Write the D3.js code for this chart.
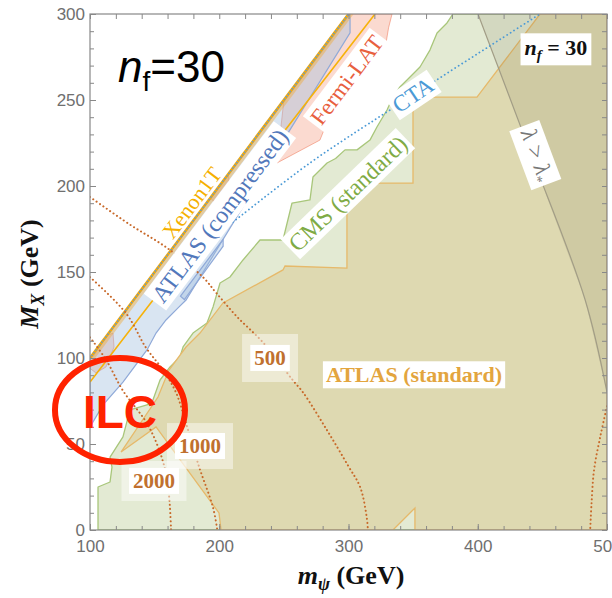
<!DOCTYPE html>
<html>
<head>
<meta charset="utf-8">
<script src="https://cdn.jsdelivr.net/npm/d3@7"></script>
<style>
  body { margin: 0; background: #fff; }
</style>
</head>
<body>
<div id="chart"></div>
<script>
// boundaries, points are [m_psi, M_X] in GeV
const cmsStd = [[106.2,0],[106.2,25],[115.5,27.9],[117,36.6],[115.5,42.4],[125.5,54.1],[130.9,69.8],[144.1,72.7],[148.7,75.6],[154.2,87.2],[161.9,94.8],[169.6,100.6],[172,106.4],[179.7,114.5],[190.5,120.3],[195.2,129.7],[200.6,143.6],[208.3,147.1],[218.4,157],[231.5,168.6],[249.3,168.6],[256.3,190.1],[270.2,191.9],[272.5,205.2],[283.4,213.4],[290,216],[297.3,221],[306.6,221],[316.6,226.7],[322,234.3],[329.8,244.2],[334.4,251.7],[339.8,257.6],[347.6,263.4],[355.3,269.2],[363,279],[368.5,289],[376.2,294.8],[380.8,300],[500,300],[500,0]];
const atlasStd = [[448.2,300],[399.4,251.7],[349.9,251.7],[349.9,201.7],[298.8,201.7],[298.8,152.3],[250.9,153.5],[249.3,151.2],[202.9,132],[185.1,114.5],[174.3,106.4],[161.1,93],[152.6,77.3],[124,45.3],[151.1,59.9],[199.8,9.9],[201.4,0],[334.4,0],[351.4,12.8],[351.4,0],[500,0],[500,300]];
const lambdaEdge = [[400.2,300],[440,221],[483,134],[500,80]];
const fermiLat = [[299.6,300],[333.7,300],[331,292],[329,283],[308.9,264.5],[285.7,241.3],[277.9,226.7],[244.7,213.4],[250,250]];
const fermiMid = [[193,193],[207,207],[208,200],[196,191]];
const fermiLow = [[100,100],[102.3,100.6],[113,113],[117.8,114.5],[118.6,106.4],[112.4,94.8],[104.6,91.3],[100,94]];
const atlasComp = [[100,100],[301.2,300],[301.2,289],[254.7,232.6],[174.3,133.7],[168.9,129.7],[158.8,122.1],[151.1,114.5],[144.1,104.7],[125.5,86],[110.1,72.7],[100,59.9]];
const atlasCompArrow = [[170,136],[203,169],[203,165],[173,134]];
const diagonal = [[100,100],[300,300]];
const xenonLow = [[100,86],[147,132],[250,231.6],[320.5,300]];
const xenonBand = [[100,100],[300,300],[304,300],[104,100]];
const cta = [[210.6,179],[270.2,213.4],[332.1,244.2],[448.2,300]];
const c500 = [[100,193.6],[130,178],[159.6,164],[187.4,147],[197.5,138],[213.7,124],[233.9,109],[257,87],[264.8,80],[283.4,58],[300,37],[309,25],[314,8],[315,0]];
const c1000 = [[100,147],[127.9,126],[143.3,106],[156.5,93],[166.5,80],[174.3,62],[184.3,37],[195.2,13],[198.5,0]];
const c2000 = [[100,112],[112.4,99],[125.5,81],[145.6,60],[158.8,33],[162.7,0]];
const cRight = [[500,72],[495,55],[490,35],[488,15],[487,0]];

const xTicks = [100, 200, 300, 400, 500];
const yTicks = [0, 50, 100, 150, 200, 250, 300];

const W = 612, H = 598;
const x = d3.scaleLinear([100, 500], [90, 607]);
const y = d3.scaleLinear([0, 300], [530, 14]);

const svg = d3.select('#chart').append('svg').attr('width', W).attr('height', H);

svg.append('defs').append('clipPath').attr('id', 'plot')
  .append('rect').attr('x', x(100)).attr('y', y(300))
  .attr('width', x(500) - x(100)).attr('height', y(0) - y(300));

const lin = d3.line().x(d => x(d[0])).y(d => y(d[1]));
const smooth = d3.line().x(d => x(d[0])).y(d => y(d[1])).curve(d3.curveCatmullRom);
const poly = d => lin(d) + 'Z';

const plot = svg.append('g').attr('clip-path', 'url(#plot)');

// CMS standard
plot.append('path').attr('d', poly(cmsStd))
  .attr('fill', '#e3ead3').attr('stroke', '#a8c67a').attr('stroke-width', 1.3)
  .attr('stroke-linejoin', 'round');
// ATLAS standard
plot.append('path').attr('d', poly(atlasStd))
  .attr('fill', '#ded9b1').attr('stroke', '#e6b96a').attr('stroke-width', 1.3);
// lambda > lambda*
plot.append('path').attr('d', poly(lambdaEdge.concat([[500, 300]])))
  .attr('fill', 'rgba(110,100,70,0.13)').attr('stroke', 'none');
plot.append('path').attr('d', smooth(lambdaEdge))
  .attr('fill', 'none').attr('stroke', '#a29d86').attr('stroke-width', 1.2);

// Fermi-LAT
[fermiLat, fermiMid, fermiLow].forEach(p => {
  plot.append('path').attr('d', poly(p))
    .attr('fill', 'rgba(244,150,120,0.35)').attr('stroke', 'rgba(238,120,90,0.55)').attr('stroke-width', 1);
});
// ATLAS compressed
[atlasComp, atlasCompArrow].forEach(p => {
  plot.append('path').attr('d', poly(p))
    .attr('fill', 'rgba(160,190,222,0.4)').attr('stroke', '#8fa9d8').attr('stroke-width', 1.2);
});

// Xenon1T
plot.append('path').attr('d', poly(xenonBand)).attr('fill', 'rgba(240,170,60,0.45)');
plot.append('path').attr('d', lin(xenonLow))
  .attr('fill', 'none').attr('stroke', '#f6b20a').attr('stroke-width', 1.6);
plot.append('path').attr('d', lin(diagonal))
  .attr('fill', 'none').attr('stroke', '#f3a90c').attr('stroke-width', 2.6);
plot.append('path').attr('d', lin(diagonal))
  .attr('fill', 'none').attr('stroke', '#5b9bd5').attr('stroke-width', 1.6)
  .attr('stroke-linecap', 'round').attr('stroke-dasharray', '0.1,3.2');

// CTA
plot.append('path').attr('d', smooth(cta))
  .attr('fill', 'none').attr('stroke', '#4b9ad6').attr('stroke-width', 1.8)
  .attr('stroke-linecap', 'round').attr('stroke-dasharray', '0.1,4');

// cross-section contours
[c500, c1000, c2000, cRight].forEach(c => {
  plot.append('path').attr('d', smooth(c))
    .attr('fill', 'none').attr('stroke', '#c8692a').attr('stroke-width', 2)
    .attr('stroke-linecap', 'round').attr('stroke-dasharray', '0.1,4');
});

// labels
const serif = '"Liberation Serif", "DejaVu Serif", serif';
function label(at, angle, text, color, size, weight, box) {
  const g = svg.append('g')
    .attr('transform', `translate(${x(at[0])},${y(at[1])}) rotate(${angle})`);
  const t = g.append('text').attr('text-anchor', 'middle').attr('dy', '0.33em')
    .attr('fill', color).style('font-family', serif).style('font-size', size + 'px')
    .style('font-weight', weight).text(text);
  const b = t.node().getBBox();
  if (box) {
    g.insert('rect', 'text').attr('x', b.x - box[0]).attr('y', b.y - box[1])
      .attr('width', b.width + 2 * box[0]).attr('height', b.height + 2 * box[1])
      .attr('fill', '#fff');
  }
  return g;
}
function contourLabel(at, text, ow, oh) {
  svg.append('rect').attr('x', x(at[0]) - ow / 2).attr('y', y(at[1]) - oh / 2)
    .attr('width', ow).attr('height', oh).attr('fill', 'rgba(255,255,255,0.45)');
  label(at, 0, text, '#c0702e', 21, 'bold', [4, 1]);
}
contourLabel([239.3, 100], '500', 56, 48);
contourLabel([185.1, 48.8], '1000', 66, 46);
contourLabel([149.5, 28.5], '2000', 65, 40);

label([350.7, 90.1], 0, 'ATLAS (standard)', '#e3a53e', 22, 'bold', [3, 1]);
label([299.6, 195.5], -44, 'CMS (standard)', '#7fab45', 24, 'normal', [3, 1]);
label([349.9, 252.9], -34, 'CTA', '#4b9ad6', 23, 'normal', [3, 1]);
label([298.8, 261.6], -53, 'Fermi-LAT', '#e8603e', 23, 'normal', [3, 1]);
label([200.6, 182.6], -53, 'ATLAS (compressed)', '#5278bb', 24, 'normal', [3, 1]);
label([178.9, 190.1], -53, 'Xenon1T', '#f5b000', 22, 'normal', null);

// lambda > lambda* label
{
  const g = svg.append('g')
    .attr('transform', `translate(${x(445.8)},${y(218)}) rotate(69.5)`);
  const t = g.append('text').attr('text-anchor', 'middle').attr('dy', '0.33em')
    .attr('fill', '#777').style('font-family', serif).style('font-size', '23px');
  t.append('tspan').style('font-style', 'italic').text('λ > λ');
  t.append('tspan').attr('dy', '5').style('font-size', '14px').text('*');
  const b = t.node().getBBox();
  g.insert('rect', 'text').attr('x', b.x - 4).attr('y', b.y - 2)
    .attr('width', b.width + 8).attr('height', b.height + 4).attr('fill', '#fff');
}

// n_f = 30 box (top right)
{
  const g = svg.append('g').attr('transform', `translate(${x(460.5)},${y(280.2)})`);
  const t = g.append('text').attr('text-anchor', 'middle').attr('dy', '0.33em')
    .attr('fill', '#111').style('font-family', serif).style('font-size', '22px').style('font-weight', 'bold');
  t.append('tspan').style('font-style', 'italic').text('n');
  t.append('tspan').attr('dy', 5).style('font-size', '15px').style('font-style', 'italic').text('f');
  t.append('tspan').attr('dy', -5).text(' = 30');
  const b = t.node().getBBox();
  g.insert('rect', 'text').attr('x', b.x - 4).attr('y', b.y - 2)
    .attr('width', b.width + 8).attr('height', b.height + 4).attr('fill', '#fff');
}

// axes
const axisG = svg.append('g').attr('fill', 'none');
axisG.append('rect').attr('x', x(100)).attr('y', y(300))
  .attr('width', x(500) - x(100)).attr('height', y(0) - y(300))
  .attr('stroke', '#888').attr('stroke-width', 1.2);

const xMinor = d3.range(100, 501, 20), yMinor = d3.range(0, 301, 10);
function styleAxis(g) {
  g.select('.domain').remove();
  g.selectAll('line').attr('stroke', '#888');
  g.selectAll('text').attr('fill', '#6f6f6f')
    .style('font-family', '"Liberation Sans", Arial, sans-serif').style('font-size', '17px');
}
svg.append('g').attr('transform', `translate(0,${y(0)})`)
  .call(d3.axisBottom(x).tickValues(xMinor).tickSize(-4).tickFormat('')).call(styleAxis);
svg.append('g').attr('transform', `translate(0,${y(0)})`)
  .call(d3.axisBottom(x).tickValues(xTicks).tickSize(-6).tickPadding(10).tickFormat(d3.format('d'))).call(styleAxis);
svg.append('g').attr('transform', `translate(0,${y(300)})`)
  .call(d3.axisTop(x).tickValues(xMinor).tickSize(-5).tickFormat('')).call(styleAxis);
svg.append('g').attr('transform', `translate(${x(100)},0)`)
  .call(d3.axisLeft(y).tickValues(yMinor).tickSize(-4).tickFormat('')).call(styleAxis);
svg.append('g').attr('transform', `translate(${x(100)},0)`)
  .call(d3.axisLeft(y).tickValues(yTicks).tickSize(-6).tickPadding(5).tickFormat(d3.format('d'))).call(styleAxis);
svg.append('g').attr('transform', `translate(${x(500)},0)`)
  .call(d3.axisRight(y).tickValues(yMinor).tickSize(-5).tickFormat('')).call(styleAxis);

// axis titles
{
  const t = svg.append('text').attr('x', 351).attr('y', 584).attr('text-anchor', 'middle')
    .attr('fill', '#111').style('font-family', serif).style('font-size', '26px').style('font-weight', 'bold');
  t.append('tspan').style('font-style', 'italic').text('m');
  t.append('tspan').attr('dy', 6).style('font-size', '18px').style('font-style', 'italic').text('ψ');
  t.append('tspan').attr('dy', -6).text(' (GeV)');
}
{
  const t = svg.append('text').attr('transform', 'translate(38,274) rotate(-90)').attr('text-anchor', 'middle')
    .attr('fill', '#111').style('font-family', serif).style('font-size', '26px').style('font-weight', 'bold');
  t.append('tspan').style('font-style', 'italic').text('M');
  t.append('tspan').attr('dy', 6).style('font-size', '18px').style('font-style', 'italic').text('X');
  t.append('tspan').attr('dy', -6).text(' (GeV)');
}

// big n_f=30 annotation
{
  const t = svg.append('text').attr('x', 118).attr('y', 82).attr('fill', '#000')
    .style('font-family', '"Liberation Sans", Arial, sans-serif').style('font-size', '44px');
  t.append('tspan').style('font-style', 'italic').text('n');
  t.append('tspan').attr('dy', 9).style('font-size', '28px').text('f');
  t.append('tspan').attr('dy', -9).text('=30');
}

// ILC annotation
svg.append('ellipse').attr('cx', x(123.2)).attr('cy', y(69.8))
  .attr('rx', x(173.5) - x(123.2)).attr('ry', y(39.6) - y(69.8))
  .attr('fill', 'none').attr('stroke', '#ff2200').attr('stroke-width', 6);
svg.append('text').attr('x', x(123.2)).attr('y', 428).attr('text-anchor', 'middle')
  .attr('fill', '#ff2200').style('font-family', '"Liberation Sans", Arial, sans-serif')
  .style('font-size', '46px').style('font-weight', 'bold').text('ILC');
</script>
</body>
</html>
